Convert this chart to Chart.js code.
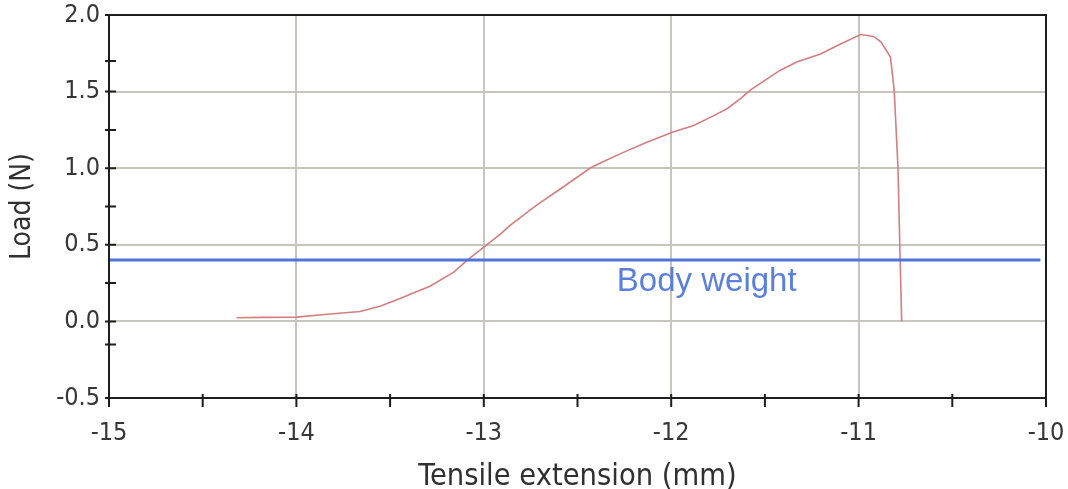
<!DOCTYPE html>
<html>
<head>
<meta charset="utf-8">
<script src="https://cdn.jsdelivr.net/npm/chart.js@4/dist/chart.umd.min.js"></script>
<style>
  html, body { margin: 0; padding: 0; background: #ffffff; }
  #wrap { width: 1068px; height: 489px; }
</style>
</head>
<body>
<div id="wrap"><canvas id="c"></canvas></div>
<script>
// Tensile test: extension (mm) against load (N)
const extension = [-14.32, -14.18, -14.00, -13.85, -13.66, -13.55, -13.45, -13.37, -13.29, -13.16,
                   -13.09, -13.00, -12.91, -12.86, -12.72, -12.59, -12.43, -12.35, -12.27, -12.13,
                   -11.99, -11.88, -11.77, -11.70, -11.63, -11.58, -11.50, -11.42, -11.33, -11.20,
                   -11.11, -10.99, -10.92, -10.88, -10.83, -10.81, -10.79, -10.78, -10.77];
const load      = [0.024, 0.026, 0.028, 0.045, 0.065, 0.100, 0.148, 0.188, 0.228, 0.322,
                   0.398, 0.485, 0.572, 0.627, 0.757, 0.866, 1.003, 1.050, 1.095, 1.170,
                   1.236, 1.279, 1.345, 1.390, 1.454, 1.508, 1.573, 1.638, 1.693, 1.747,
                   1.802, 1.873, 1.860, 1.823, 1.725, 1.509, 1.007, 0.485, 0.000];

// Reference level for the animal's body weight
const bodyWeight = 0.4;
const bodyWeightSpan = [-15, -10.03];
const bodyWeightLabel = 'Body weight';
const bodyWeightLabelAt = { x: -12.29, y: 0.20 };

// Axis ranges and tick marks
const xRange = [-15, -10];
const yRange = [-0.5, 2.0];
const xTickMarks = [-15, -14.5, -14, -13.5, -13, -12.5, -12, -11.5, -11, -10.5, -10];
const yTickMarks = [2.0, 1.7, 1.5, 1.25, 1.0, 0.75, 0.5, 0.25, 0.0, -0.15, -0.5];

const xTitle = 'Tensile extension (mm)';
const yTitle = 'Load (N)';

const fontFamily = '"DejaVu Sans Condensed", "DejaVu Sans", sans-serif';
const tickFont = { family: fontFamily, size: 25 };
const xTitleFont = { family: fontFamily, size: 30.5, lineHeight: 1.0 };
const yTitleFont = { family: fontFamily, size: 28, lineHeight: 1.0 };

// Fixed axis boxes; label overflow is covered by the layout padding instead
function fixBox(scale, key, size) {
  scale[key] = size;
  scale.paddingTop = 0;
  scale.paddingBottom = 0;
  scale.paddingLeft = 0;
  scale.paddingRight = 0;
}

// Draws the plot frame, the crossing tick marks and the body-weight caption
const framePlugin = {
  id: 'frame',
  afterDatasetsDraw(chart) {
    const { ctx, chartArea: a, scales: { x, y } } = chart;
    ctx.save();
    ctx.font = '33px "Liberation Sans", Arial, sans-serif';
    ctx.fillStyle = '#5b7fdd';
    ctx.textBaseline = 'alphabetic';
    ctx.textAlign = 'left';
    ctx.fillText(bodyWeightLabel, x.getPixelForValue(bodyWeightLabelAt.x), y.getPixelForValue(bodyWeightLabelAt.y));

    ctx.strokeStyle = '#1e1e1e';
    ctx.lineWidth = 2;
    ctx.strokeRect(a.left, a.top, a.right - a.left, a.bottom - a.top);

    ctx.beginPath();
    for (const v of xTickMarks) {
      const px = x.getPixelForValue(v);
      ctx.moveTo(px, a.bottom - 4);
      ctx.lineTo(px, a.bottom + 9);
    }
    for (const v of yTickMarks) {
      const py = y.getPixelForValue(v);
      ctx.moveTo(a.left - 4, py);
      ctx.lineTo(a.left + 7, py);
    }
    ctx.stroke();
    ctx.restore();
  }
};

new Chart(document.getElementById('c'), {
  type: 'line',
  data: {
    datasets: [
      {
        label: 'Body weight',
        data: bodyWeightSpan.map(v => ({ x: v, y: bodyWeight })),
        borderColor: '#4f75da',
        borderWidth: 3,
        pointRadius: 0,
        fill: false
      },
      {
        label: 'Load',
        data: extension.map((v, i) => ({ x: v, y: load[i] })),
        borderColor: 'rgb(212,126,128)',
        borderWidth: 1.6,
        pointRadius: 0,
        tension: 0,
        fill: false
      }
    ]
  },
  options: {
    responsive: true,
    maintainAspectRatio: false,
    animation: false,
    layout: { padding: { top: 15, right: 22, left: 0, bottom: 0 } },
    plugins: { legend: { display: false }, tooltip: { enabled: false } },
    scales: {
      x: {
        type: 'linear',
        min: xRange[0],
        max: xRange[1],
        afterFit(scale) { fixBox(scale, 'height', 91); },
        ticks: { stepSize: 1, font: tickFont, color: '#363636', padding: 20, maxRotation: 0 },
        grid: { color: '#c6c6be', lineWidth: 2, drawTicks: false },
        border: { display: true, color: '#1e1e1e', width: 2 },
        title: { display: true, text: xTitle, font: xTitleFont, color: '#303030', padding: { top: 0, bottom: -3 } }
      },
      y: {
        type: 'linear',
        min: yRange[0],
        max: yRange[1],
        afterFit(scale) { fixBox(scale, 'width', 109); },
        ticks: { stepSize: 0.5, font: tickFont, color: '#363636', padding: 9, callback: v => v.toFixed(1) },
        grid: { color: '#c6c6be', lineWidth: 2, drawTicks: false },
        border: { display: true, color: '#1e1e1e', width: 2 },
        title: { display: true, text: yTitle, font: yTitleFont, color: '#303030', padding: { top: 9, bottom: 0 } }
      }
    }
  },
  plugins: [framePlugin]
});
</script>
</body>
</html>
